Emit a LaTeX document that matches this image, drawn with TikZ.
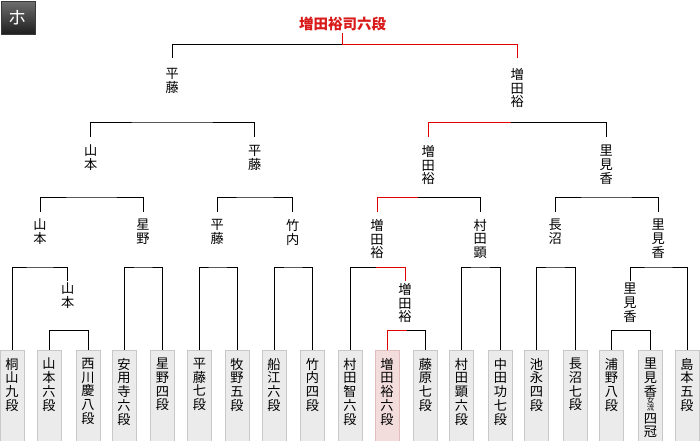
\documentclass[tikz,border=0pt]{standalone}
\usepackage{fontspec}
\newfontfamily\jp{Noto Sans CJK JP}
\definecolor{winred}{HTML}{E00000}
\definecolor{titlered}{HTML}{D91A1A}
\definecolor{boxfill}{HTML}{EBEBEB}
\definecolor{boxline}{HTML}{C8C8C8}
\definecolor{pinkfill}{HTML}{F3DCDC}
\definecolor{pinkline}{HTML}{E2BDBD}
\definecolor{icontop}{HTML}{6E6E6E}
\definecolor{iconbot}{HTML}{1E1E1E}
\definecolor{iconedge}{HTML}{3A3A3A}
\newcommand\vbx[1]{\parbox[t][86pt][t]{24pt}{\centering #1}}
\newcommand\smj[1]{{\fontsize{7.5}{7.5}\selectfont #1}}
\begin{document}
\begin{tikzpicture}[x=1pt,y=-1pt,
  ln/.style={line width=1pt, black},
  win/.style={line width=1pt, winred},
  lab/.style={anchor=north, inner sep=0pt, outer xsep=0pt, outer ysep=#1, align=center,
              font=\jp\fontsize{13.2}{13.9}\selectfont},
  player/.style={anchor=north, draw=boxline, fill=boxfill, line width=1pt,
                 inner xsep=0pt, inner ysep=7.5pt, font=\jp\fontsize{13.2}{13.8}\selectfont},
  winner/.style={player, draw=pinkline, fill=pinkfill}]
\useasboundingbox (0,0) rectangle (700,440);
\clip (0,0) rectangle (700,440);

% icon and title
\node[draw=iconedge, top color=icontop, bottom color=iconbot, minimum width=34pt,
      minimum height=33pt, inner sep=0pt, text=white,
      font=\jp\fontsize{18}{18}\selectfont] (icon) at (18,17.5) {ホ};
\node[inner sep=0pt, outer ysep=2.5pt, text=titlered,
      font=\jp\bfseries\fontsize{14.5}{14.5}\selectfont] (T) at (342.5,24) {増田裕司六段};

% players
\node[player] (P1)  at (12,350)    {\vbx{桐\\山\\九\\段}};
\node[player] (P2)  at (49,350)    {\vbx{山\\本\\六\\段}};
\node[player] (P3)  at (88,350)    {\vbx{西\\川\\慶\\八\\段}};
\node[player] (P4)  at (124,350)   {\vbx{安\\用\\寺\\六\\段}};
\node[player] (P5)  at (162.5,350) {\vbx{星\\野\\四\\段}};
\node[player] (P6)  at (199.5,350) {\vbx{平\\藤\\七\\段}};
\node[player] (P7)  at (237,350)   {\vbx{牧\\野\\五\\段}};
\node[player] (P8)  at (274,350)   {\vbx{船\\江\\六\\段}};
\node[player] (P9)  at (312.5,350) {\vbx{竹\\内\\四\\段}};
\node[player] (P10) at (350,350)   {\vbx{村\\田\\智\\六\\段}};
\node[winner] (P11) at (387,350)   {\vbx{増\\田\\裕\\六\\段}};
\node[player] (P12) at (425.5,350) {\vbx{藤\\原\\七\\段}};
\node[player] (P13) at (461.5,350) {\vbx{村\\田\\顕\\六\\段}};
\node[player] (P14) at (500.5,350) {\vbx{中\\田\\功\\七\\段}};
\node[player] (P15) at (536.5,350) {\vbx{池\\永\\四\\段}};
\node[player] (P16) at (575.5,350) {\vbx{長\\沼\\七\\段}};
\node[player] (P17) at (611.5,350) {\vbx{浦\\野\\八\\段}};
\node[player] (P18) at (650.5,350) {\vbx{里\\見\\香\\[-6.5pt]\smj{女}\\[-6.5pt]\smj{流}\\[-1pt]四\\[-0.5pt]冠}};
\node[player] (P19) at (687,350)   {\vbx{島\\本\\五\\段}};

% sub-round winners
\node[lab=2pt] (S1) at (67.7,281) {山\\本};
\node[lab=2pt] (S2) at (405,281)  {増\\田\\裕};
\node[lab=2pt] (S3) at (630,281)  {里\\見\\香};

% round 1 winners
\node[lab=7pt] (A4) at (40,212)    {山\\本};
\node[lab=7pt] (B4) at (143,212)   {星\\野};
\node[lab=7pt] (C4) at (217.3,212) {平\\藤};
\node[lab=7pt] (D4) at (292.7,212) {竹\\内};
\node[lab=7pt] (E4) at (377,212)   {増\\田\\裕};
\node[lab=7pt] (F4) at (480.3,212) {村\\田\\顕};
\node[lab=7pt] (G4) at (555.3,212) {長\\沼};
\node[lab=7pt] (H4) at (658.3,212) {里\\見\\香};

% round 2 winners
\node[lab=8pt] (A3) at (90.7,137)  {山\\本};
\node[lab=8pt] (B3) at (254.7,137) {平\\藤};
\node[lab=8pt] (C3) at (428.3,137) {増\\田\\裕};
\node[lab=8pt] (D3) at (606.3,137) {里\\見\\香};

% semi-final winners
\node[lab=10pt] (A2) at (172.3,58) {平\\藤};
\node[lab=10pt] (B2) at (517.3,58) {増\\田\\裕};

% bracket points
\coordinate (s0)  at (342.5,44);
\coordinate (m2a) at (172,122);
\coordinate (s2)  at (511,122);
\coordinate (m3a) at (91,197);
\coordinate (m3b) at (255,197);
\coordinate (s3)  at (418,197);
\coordinate (m3d) at (606,197);
\coordinate (m4a) at (40,267);
\coordinate (m4b) at (143,267);
\coordinate (m4c) at (217,267);
\coordinate (m4d) at (293,267);
\coordinate (s4)  at (376,267);
\coordinate (m4f) at (480,267);
\coordinate (m4g) at (555,267);
\coordinate (m4h) at (658,267);
\coordinate (m5a) at (68,330);
\coordinate (s5)  at (407,330);
\coordinate (m5c) at (631,330);

% sub round
\draw[ln] (P2.north) |- (m5a) -| (P3.north);
\draw[ln] (s5) -| (P12.north);
\draw[win] (P11.north) |- (s5);
\draw[ln] (P17.north) |- (m5c) -| (P18.north);

% round 1
\draw[ln] (P1.north) |- (m4a) -| (S1.north);
\draw[ln] (P4.north) |- (m4b) -| (P5.north);
\draw[ln] (P6.north) |- (m4c) -| (P7.north);
\draw[ln] (P8.north) |- (m4d) -| (P9.north);
\draw[ln] (s4) -| (P10.north);
\draw[win] (S2.north) |- (s4);
\draw[ln] (P13.north) |- (m4f) -| (P14.north);
\draw[ln] (P15.north) |- (m4g) -| (P16.north);
\draw[ln] (S3.north) |- (m4h) -| (P19.north);

% round 2
\draw[ln] (A4.north) |- (m3a) -| (B4.north);
\draw[ln] (C4.north) |- (m3b) -| (D4.north);
\draw[ln] (s3) -| (F4.north);
\draw[win] (E4.north) |- (s3);
\draw[ln] (G4.north) |- (m3d) -| (H4.north);

% semi-finals
\draw[ln] (A3.north) |- (m2a) -| (B3.north);
\draw[ln] (s2) -| (D3.north);
\draw[win] (C3.north) |- (s2);

% final
\draw[ln] (s0) -| (A2.north);
\draw[win] (T.south) -- (s0) -| (B2.north);
\end{tikzpicture}
\end{document}
